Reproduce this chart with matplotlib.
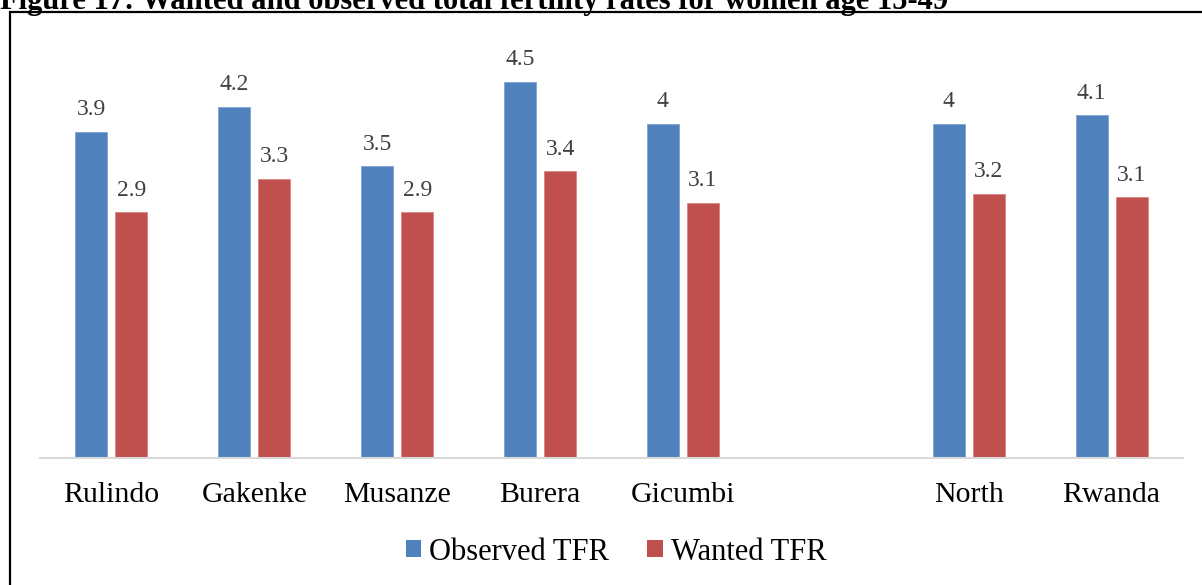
import numpy as np
import matplotlib
matplotlib.use("Agg")
import matplotlib.pyplot as plt
from matplotlib.patches import Rectangle, Patch

categories = ["Rulindo", "Gakenke", "Musanze", "Burera", "Gicumbi", "", "North", "Rwanda"]
observed = [3.90, 4.20, 3.49, 4.50, 4.00, np.nan, 4.00, 4.10]
wanted = [2.94, 3.34, 2.94, 3.43, 3.05, np.nan, 3.16, 3.12]
observed_labels = ["3.9", "4.2", "3.5", "4.5", "4", "", "4", "4.1"]
wanted_labels = ["2.9", "3.3", "2.9", "3.4", "3.1", "", "3.2", "3.1"]
series_names = ["Observed TFR", "Wanted TFR"]
title = "Figure 17: Wanted and observed total fertility rates for women age 15-49"

BLUE = "#4f81bd"
RED = "#c0504d"
plt.rcParams["font.family"] = ["Liberation Serif", "DejaVu Serif"]

W, H = 1202, 585
fig = plt.figure(figsize=(W / 100, H / 100), dpi=100)
ax = fig.add_axes([40 / W, 127 / H, 1143 / W, 418 / H])

x = np.arange(len(categories))
bw = 0.224
off = 0.14
b1 = ax.bar(x - off, observed, bw, color=BLUE, edgecolor="#7ea3d3", linewidth=0.6)
b2 = ax.bar(x + off, wanted, bw, color=RED, edgecolor="#d88582", linewidth=0.6)

for bars, vals, labs in ((b1, observed, observed_labels), (b2, wanted, wanted_labels)):
    for rect, v, lab in zip(bars, vals, labs):
        if np.isnan(v):
            continue
        ax.annotate(lab, (rect.get_x() + rect.get_width() / 2, v),
                    xytext=(0, 12), textcoords="offset points",
                    ha="center", va="baseline", fontsize=17, color="#404040")

ax.set_xlim(-0.5, len(categories) - 0.5)
ax.set_ylim(0, 5)
ax.set_xticks(x)
ax.set_xticklabels(categories, fontsize=21.5)
ax.tick_params(axis="x", length=0, pad=17)
ax.set_yticks([])
for s in ("left", "right", "top"):
    ax.spines[s].set_visible(False)
ax.spines["bottom"].set_color("#d9d9d9")
ax.spines["bottom"].set_linewidth(1.5)

handles = [Patch(facecolor=BLUE), Patch(facecolor=RED)]
fig.legend(handles, series_names, loc="center", bbox_to_anchor=(616 / W, 33 / H),
           ncol=2, frameon=False, fontsize=22, handlelength=0.5, handleheight=0.5,
           handletextpad=0.27, columnspacing=1.25, borderpad=0)

# outer frame
fig.add_artist(Rectangle((10 / W, -0.2), 1.5, 1.2 - 11.5 / H, transform=fig.transFigure,
                         fill=False, edgecolor="black", linewidth=1.6))
fig.text(0, 1 - 8.5 / H, title, fontsize=22, fontweight="bold", ha="left", va="baseline")

fig.savefig("out.png", dpi=100)
